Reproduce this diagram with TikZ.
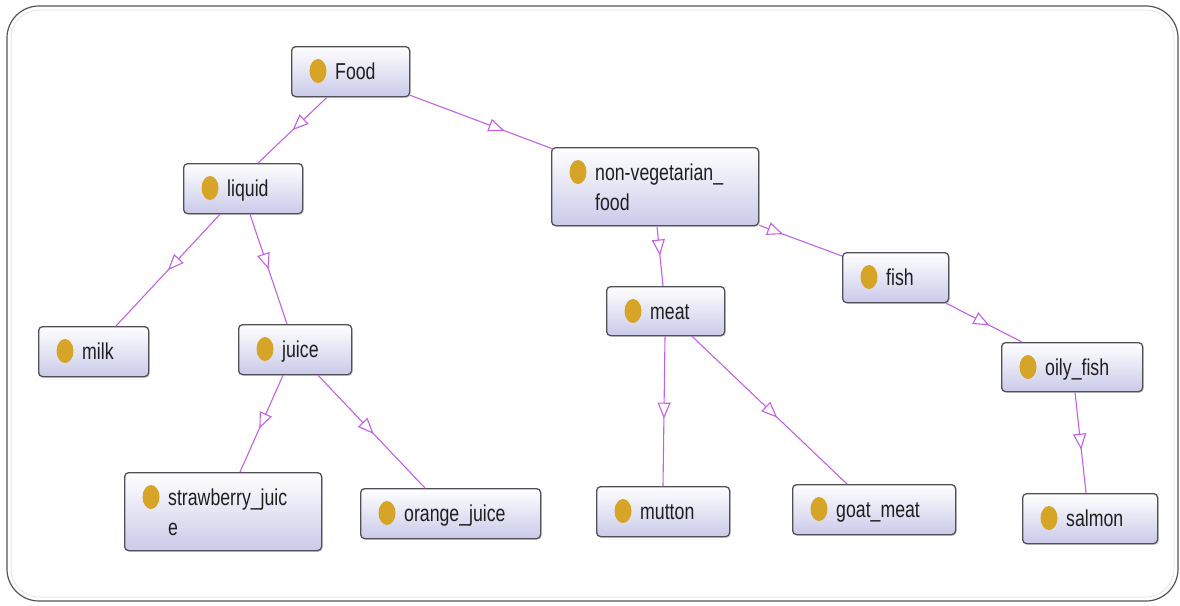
\documentclass[tikz,border=0pt]{standalone}
\usepackage{fontspec}
\newfontfamily\labelfont[FakeStretch=0.77]{Liberation Sans}
\usetikzlibrary{arrows.meta,decorations.markings,calc,shadows,shapes.geometric}

\definecolor{edgeviolet}{RGB}{196,96,232}
\definecolor{dotgold}{RGB}{214,165,40}
\definecolor{boxlav}{RGB}{202,202,234}
\definecolor{boxline}{RGB}{80,80,88}
\definecolor{framegray}{RGB}{85,85,85}
\definecolor{innergray}{RGB}{232,232,232}

\tikzset{
  cls/.style={draw=boxline, line width=1.3pt, rounded corners=4pt,
    top color=white, bottom color=boxlav, inner sep=0pt,
    drop shadow={shadow xshift=1.2pt, shadow yshift=-1.2pt, opacity=0.25}},
  bullet/.style={ellipse, fill=dotgold, draw=none, inner sep=0pt,
    minimum width=17pt, minimum height=24pt},
  lbl/.style={font=\labelfont\fontsize{23}{30}\selectfont, text=black!88,
    inner sep=0pt, anchor=base west},
  isa/.style={draw=edgeviolet, line width=1.1pt,
    decoration={markings, mark=at position #1 with
      {\arrow{Triangle[open, fill=white, length=16pt, width=13pt]}}},
    postaction={decorate}},
  isa/.default=0.52
}

% class box: name, left, top, right, bottom, first text line
\newcommand{\classnode}[6]{%
  \node[cls, anchor=north west, minimum width={(#4-#2)*1pt},
        minimum height={(#5-#3)*1pt}] (#1) at (#2,#3) {};
  \node[bullet] (#1-dot) at ($(#1.north west)+(27,25)$) {};
  \node[lbl] (#1-text) at ($(#1.north west)+(44,33)$) {#6};
}

\begin{document}
\begin{tikzpicture}[x=1pt, y=-1pt]
  \useasboundingbox (0,0) rectangle (1180,605);

  % outer frame
  \draw[innergray, line width=1pt, rounded corners=28pt] (11,10) rectangle (1174,597);
  \draw[framegray, line width=1.2pt, rounded corners=32pt] (7,6) rectangle (1178,601);

  % classes
  \classnode{food}{291}{46}{409}{96}{Food}
  \classnode{liquid}{183}{163}{302}{213}{liquid}
  \classnode{nonveg}{551}{147}{758}{225}{non-vegetarian\_}
  \node[lbl] (nonveg-text2) at ($(nonveg.north west)+(44,63)$) {food};
  \classnode{milk}{38}{326}{148}{376}{milk}
  \classnode{juice}{238}{324}{351}{374}{juice}
  \classnode{meat}{606}{286}{724}{335}{meat}
  \classnode{fish}{842}{252}{948}{302}{fish}
  \classnode{oily}{1001}{342}{1142}{391}{oily\_fish}
  \classnode{straw}{124}{472}{321}{550}{strawberry\_juic}
  \node[lbl] (straw-text2) at ($(straw.north west)+(44,63)$) {e};
  \classnode{orange}{360}{488}{540}{538}{orange\_juice}
  \classnode{mutton}{596}{486}{729}{536}{mutton}
  \classnode{goat}{792}{484}{955}{534}{goat\_meat}
  \classnode{salmon}{1022}{493}{1157}{543}{salmon}

  % subclass links
  \draw[isa=0.5]  ($(food.south west)+(36,0)$)   -- ($(liquid.north west)+(75,0)$);
  \draw[isa=0.66] ($(food.south east)+(0,-2)$)   -- ($(nonveg.north west)+(2,2)$);
  \draw[isa=0.5]  ($(liquid.south west)+(37,0)$) -- ($(milk.north west)+(78,0)$);
  \draw[isa=0.5]  ($(liquid.south west)+(67,0)$) -- ($(juice.north west)+(49,0)$);
  \draw[isa=0.55] ($(juice.south west)+(45,0)$)  -- ($(straw.north west)+(116,0)$);
  \draw[isa=0.52] ($(juice.south west)+(80,0)$)  -- ($(orange.north west)+(65,0)$);
  \draw[isa=0.49] ($(nonveg.south west)+(106,0)$) -- ($(meat.north west)+(57,0)$);
  \draw[isa=0.29] ($(nonveg.south east)+(0,-1)$) -- ($(fish.north west)+(0,4)$);
  \draw[isa=0.55] ($(meat.south west)+(59,0)$)   -- ($(mutton.north west)+(67,0)$);
  \draw[isa=0.55] ($(meat.south west)+(86,0)$)   -- ($(goat.north west)+(55,0)$);
  \draw[isa=0.57] ($(fish.south east)+(-3,0)$)   -- ($(oily.north west)+(21,0)$);
  \draw[isa=0.57] ($(oily.south west)+(74,0)$)   -- ($(salmon.north west)+(64,0)$);
\end{tikzpicture}
\end{document}
